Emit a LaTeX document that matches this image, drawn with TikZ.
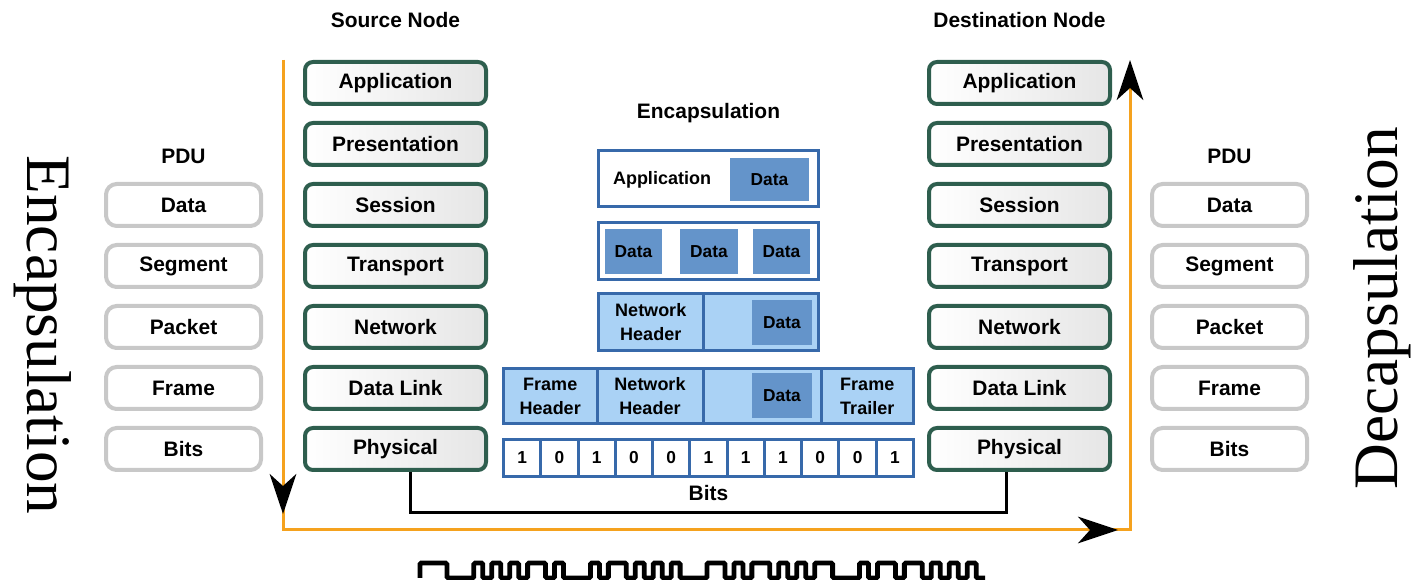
\documentclass[tikz,border=0pt]{standalone}
\usepackage{fontspec}
\setmainfont{Liberation Serif}
\newfontfamily\labelfont{Liberation Sans}
\usepackage{tikz}
\usetikzlibrary{arrows.meta}
\usetikzlibrary{positioning}

\definecolor{layeredge}{RGB}{46,94,78}
\definecolor{pdugray}{RGB}{200,200,200}
\definecolor{pktedge}{RGB}{55,105,170}
\definecolor{pktfill}{RGB}{170,210,245}
\definecolor{pktdata}{RGB}{100,148,202}
\definecolor{flowor}{RGB}{245,162,30}

\tikzset{
  boxsize/.style 2 args={minimum width=#1*0.75pt, minimum height=#2*0.75pt},
  headlabel/.style={font=\labelfont\bfseries\fontsize{15.7}{18}\selectfont, inner sep=0pt},
  osilayer/.style={draw=layeredge, line width=3pt, rounded corners=6pt,
    left color=white, right color=black!10, boxsize={181}{42}, inner sep=0pt,
    font=\labelfont\bfseries\fontsize{15.7}{18}\selectfont},
  pdu/.style={draw=pdugray, line width=3pt, rounded corners=8pt, fill=white,
    boxsize={155}{42}, inner sep=0pt,
    font=\labelfont\bfseries\fontsize{15.7}{18}\selectfont},
  pkt/.style={draw=pktedge, line width=2.25pt, fill=white, inner sep=0pt},
  pktlt/.style={pkt, fill=pktfill},
  pktdat/.style={fill=pktdata, inner sep=0pt,
    font=\labelfont\bfseries\fontsize{13}{15}\selectfont},
  ptext/.style={inner sep=0pt, align=center,
    font=\labelfont\bfseries\fontsize{13.5}{18}\selectfont},
  bitcell/.style={pkt, boxsize={37.27}{37},
    font=\labelfont\bfseries\fontsize{13}{15}\selectfont},
  bigtext/.style={font=\fontsize{47.5}{50}\selectfont, inner sep=0pt},
  flow/.style={draw=flowor, line width=2.25pt},
  flowtip/.style={-{Stealth[length=30pt, width=20pt, inset=9pt, color=black]}},
  wire/.style={draw=black, line width=2.25pt},
  wave/.style={draw=black, line width=3.6pt, rounded corners=1pt},
}

\begin{document}
\begin{tikzpicture}[x=0.75pt, y=-0.75pt, node distance=11.25pt]

    \useasboundingbox (0,0) rectangle (1414,580);

    % Source stack

    \node[osilayer]                (sapp)  at (395.5,83) {Application}; %
    \node[osilayer, below=of sapp]  (spres) {Presentation}; %
    \node[osilayer, below=of spres] (ssess) {Session}; %
    \node[osilayer, below=of ssess] (strans) {Transport}; %
    \node[osilayer, below=of strans] (snet) {Network}; %
    \node[osilayer, below=of snet]  (slink) {Data Link}; %
    \node[osilayer, below=of slink] (sphys) {Physical}; %
    \node[headlabel] (srctitle) at (sapp |- 0,20) {Source Node}; %

    % Destination stack

    \node[osilayer]                (dapp)  at (1019.5,83) {Application}; %
    \node[osilayer, below=of dapp]  (dpres) {Presentation}; %
    \node[osilayer, below=of dpres] (dsess) {Session}; %
    \node[osilayer, below=of dsess] (dtrans) {Transport}; %
    \node[osilayer, below=of dtrans] (dnet) {Network}; %
    \node[osilayer, below=of dnet]  (dlink) {Data Link}; %
    \node[osilayer, below=of dlink] (dphys) {Physical}; %
    \node[headlabel] (dsttitle) at (dapp |- 0,20) {Destination Node}; %

    % PDU columns

    \node[pdu, left=30pt of ssess]  (ldata) {Data}; %
    \node[pdu, below=of ldata]      (lseg)  {Segment}; %
    \node[pdu, below=of lseg]       (lpack) {Packet}; %
    \node[pdu, below=of lpack]      (lframe) {Frame}; %
    \node[pdu, below=of lframe]     (lbits) {Bits}; %
    \node[headlabel] (lpdu) at (ldata |- 0,156) {PDU}; %

    \node[pdu, right=28.5pt of dsess] (rdata) {Data}; %
    \node[pdu, below=of rdata]      (rseg)  {Segment}; %
    \node[pdu, below=of rseg]       (rpack) {Packet}; %
    \node[pdu, below=of rpack]      (rframe) {Frame}; %
    \node[pdu, below=of rframe]     (rbits) {Bits}; %
    \node[headlabel] (rpdu) at (rdata |- 0,156) {PDU}; %

    % Encapsulation

    \node[headlabel] (enctitle) at (708.5,113) {Encapsulation}; %

    \node[pkt, boxsize={220}{56}] (appunit) at (708.5,178.5) {}; %
    \node[ptext] (apptext) at (662,180) {Application}; %
    \node[pktdat, boxsize={79}{43}] (appdata) at (769.5,179.5) {Data}; %

    \node[pkt, boxsize={220}{57}] (segunit) at (708.5,251) {}; %
    \node[pktdat, boxsize={57}{45}] (segdata1) at (633.5,251.5) {Data}; %
    \node[pktdat, boxsize={58}{45}] (segdata2) at (709,251.5) {Data}; %
    \node[pktdat, boxsize={57}{45}] (segdata3) at (781.5,251.5) {Data}; %

    \node[pktlt, boxsize={104.5}{57}] (pkthdr) at (650.75,322) {}; %
    \node[ptext] at (pkthdr) {Network\\Header}; %
    \node[pktlt, boxsize={115.5}{57}] (pktbody) at (760.75,322) {}; %
    \node[pktdat, boxsize={60}{45}] (pktdata) at (782,322.5) {Data}; %

    \node[pktlt, boxsize={93.5}{55}] (frmhdr) at (550.25,396) {}; %
    \node[ptext] at (frmhdr) {Frame\\Header}; %
    \node[pktlt, boxsize={106}{55}] (frmnet) at (650,396) {}; %
    \node[ptext] at (frmnet) {Network\\Header}; %
    \node[pktlt, boxsize={118}{55}] (frmbody) at (762,396) {}; %
    \node[pktdat, boxsize={60}{45}] (frmdata) at (782,395.5) {Data}; %
    \node[pktlt, boxsize={92.5}{55}] (frmtrl) at (867.25,396) {}; %
    \node[ptext] at (frmtrl) {Frame\\Trailer}; %

    \foreach \b [count=\i] in {1,0,1,0,0,1,1,1,0,0,1}
        \node[bitcell] (bit\i) at ({503.5+37.27*(\i-0.5)},458) {\b}; %
    \node[headlabel] (bitstitle) at (708.5,493) {Bits}; %

    % Medium

    \coordinate (wirel) at (410,513); %
    \coordinate (wirer) at (1006,513); %
    \draw[wire] (sphys.south -| wirel) -- (wirel) -- (wirer) -- (dphys.south -| wirer); %

    \coordinate (wavestart) at (420,578); %
    \draw[wave] (wavestart)
        \foreach \w [count=\i] in {3,3,1,1,1,1,1,1,2,1,1,3,1,1,2,1,1,1,1,1,1,3,2,1,
                                   1,1,2,1,1,1,1,1,2,3,1,1,2,1,2,1,1,1,1,1,1,1}
        { -- ++(0,{(1-2*isodd(\i))*15}) -- ++({\w*8.97},0) }; %

    % Direction of flow

    \coordinate (encstart) at (283,60); %
    \coordinate (downtip)  at (283,514); %
    \coordinate (bendl)    at (283,530); %
    \coordinate (righttip) at (1118,530); %
    \coordinate (bendr)    at (1130,530); %
    \coordinate (decend)   at (1130,60); %

    \draw[flow, flowtip] (encstart) -- (bendl) -- (bendr) -- (decend); %
    \draw[flow, flowtip] (encstart) -- (downtip); %
    \draw[flow, flowtip] (bendl) -- (righttip); %

    \node[bigtext, rotate=-90] (enclabel) at (43,335) {Encapsulation}; %
    \node[bigtext, rotate=90]  (declabel) at (1382,308) {Decapsulation}; %

\end{tikzpicture}
\end{document}
